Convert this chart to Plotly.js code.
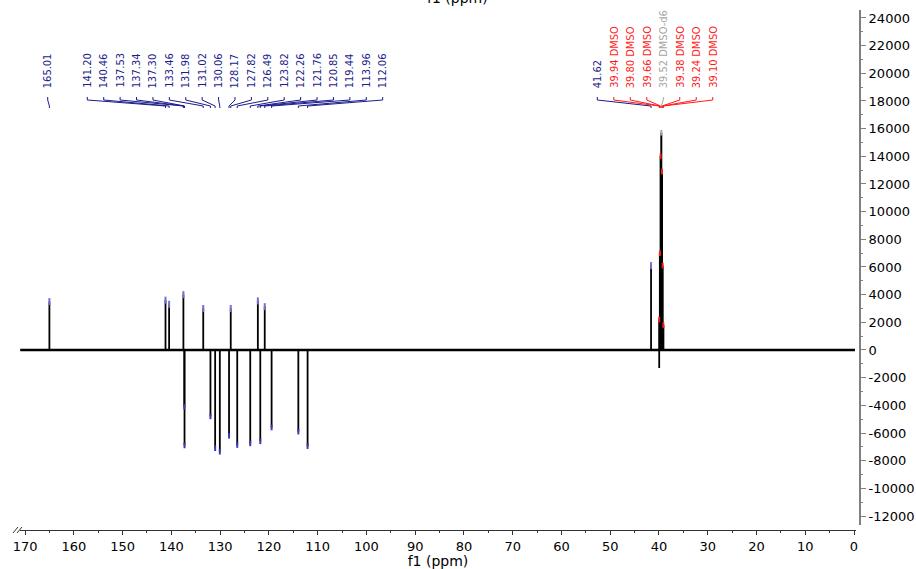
<!DOCTYPE html>
<html><head><meta charset="utf-8">
<script src="https://cdn.plot.ly/plotly-3.0.1.min.js"></script>
<style>html,body{margin:0;padding:0;background:#fff}</style>
</head><body><div id="chart" style="width:916px;height:569px"></div>
<script>
// ---------- data ----------
const posPeakPpm = [165.01, 141.20, 140.46, 137.53, 133.46, 127.82, 122.26, 120.85, 41.62];
const posPeakInt = [3500, 3600, 3300, 4000, 3000, 3000, 3550, 3130, 6100];
const negPeakPpm = [137.34, 137.30, 131.98, 131.02, 130.06, 128.17, 126.49, 123.82, 121.76, 119.44, 113.96, 112.06];
const negPeakInt = [-4100, -6900, -4800, -7100, -7350, -6200, -6870, -6750, -6600, -5600, -5900, -6950];
const solventPpm = [39.94, 39.80, 39.66, 39.52, 39.38, 39.24, 39.10];
const solventInt = [2200, 7000, 14000, 15700, 12900, 6100, 1800];
const artifactPpm = [39.95];
const artifactInt = [-1300];
const baselinePpm = [171.0, -0.2];
const baselineInt = [0, 0];
const xTickVals = [170, 160, 150, 140, 130, 120, 110, 100, 90, 80, 70, 60, 50, 40, 30, 20, 10, 0];
const yTickVals = [24000, 22000, 20000, 18000, 16000, 14000, 12000, 10000, 8000, 6000, 4000, 2000, 0,
                   -2000, -4000, -6000, -8000, -10000, -12000];
const labelGroupA = ['165.01'];
const labelGroupB = ['141.20', '140.46', '137.53', '137.34', '137.30', '133.46', '131.98', '131.02', '130.06',
                     '128.17', '127.82', '126.49', '123.82', '122.26', '121.76', '120.85', '119.44', '113.96', '112.06'];
const labelGroupC = ['41.62', '39.94 DMSO', '39.80 DMSO', '39.66 DMSO', '39.52 DMSO-d6', '39.38 DMSO', '39.24 DMSO', '39.10 DMSO'];

// ---------- layout geometry ----------
const W = 916, H = 569;
const PL = 20, PR = 860, PT = 10, PB = 530;      // plot area in px
const XDOM_END = 856;                              // x axis ends a bit before the y axis
const X0 = 171.04, X1 = -0.41;                     // ppm at PL and XDOM_END
const Y0 = -12650, Y1 = 24575;                     // intensity at y-domain bottom/top
const pxToPpm = px => X0 + (px - PL) / (XDOM_END - PL) * (X1 - X0);
const pyToPaper = py => (PB - py) / (PB - PT);
const pxToPaper = px => (px - PL) / (PR - PL);
const groups = [
  {labels: labelGroupA, start: 47.7, step: 16.45},
  {labels: labelGroupB, start: 87.3, step: 16.41},
  {labels: labelGroupC, start: 597.3, step: 16.49}
];
const NAVY = '#1c1c8c', RED = '#ff1a1a', GREY = '#a6a6a6';
const colorOf = t => t.indexOf('DMSO-d6') >= 0 ? GREY : (t.indexOf('DMSO') >= 0 ? RED : NAVY);

// ---------- traces ----------
function sticks(xs, ys) {
  const x = [], y = [];
  xs.forEach((v, i) => { x.push(v, v, null); y.push(0, ys[i], null); });
  return {x, y};
}
const allPpm = posPeakPpm.concat(negPeakPpm, artifactPpm);
const allInt = posPeakInt.concat(negPeakInt, artifactInt);
const st = sticks(allPpm, allInt);
const sv = sticks(solventPpm, solventInt);

const traces = [
  {x: baselinePpm, y: baselineInt, mode: 'lines', line: {color: '#000', width: 2.5}, hoverinfo: 'skip'},
  {x: st.x, y: st.y, mode: 'lines', line: {color: '#000', width: 1.8}, hoverinfo: 'skip'},
  {x: sv.x, y: sv.y, mode: 'lines', line: {color: '#000', width: 2}, hoverinfo: 'skip'},
  {x: posPeakPpm, y: posPeakInt, mode: 'markers',
   marker: {symbol: 'line-ns', size: 5, line: {color: '#7070d0', width: 2}}, hoverinfo: 'skip'},
  {x: negPeakPpm, y: negPeakInt, mode: 'markers',
   marker: {symbol: 'line-ns', size: 4, line: {color: '#3a3ab0', width: 2}}, hoverinfo: 'skip'},
  {x: solventPpm, y: solventInt, mode: 'markers',
   marker: {symbol: 'line-ns', size: 4, line: {color: solventPpm.map(p => p === 39.52 ? GREY : RED), width: 2}}, hoverinfo: 'skip'}
];

// ---------- labels & connectors ----------
const annotations = [], shapes = [];
groups.forEach(g => {
  g.labels.forEach((t, i) => {
    const px = g.start + i * g.step;
    const lx = pxToPpm(px);
    const peak = parseFloat(t);
    const c = colorOf(t);
    annotations.push({
      x: lx, xref: 'x', y: pyToPaper(89), yref: 'paper', xanchor: 'center', yanchor: 'bottom',
      text: t, textangle: -90, showarrow: false, borderpad: 0,
      font: {family: 'Liberation Sans Narrow, DejaVu Sans Condensed, sans-serif', size: 11, color: c}
    });
    shapes.push({
      type: 'path', xref: 'x', yref: 'paper', layer: 'above',
      path: 'M' + lx + ',' + pyToPaper(97) + ' L' + lx + ',' + pyToPaper(100) +
            ' L' + peak + ',' + pyToPaper(106) + ' L' + peak + ',' + pyToPaper(108),
      line: {color: c, width: 1}
    });
  });
});
// axis break mark
[13, 17].forEach(px => {
  shapes.push({type: 'line', xref: 'paper', yref: 'paper',
    x0: pxToPaper(px), y0: pyToPaper(533), x1: pxToPaper(px + 5), y1: pyToPaper(527),
    line: {color: '#333', width: 1}});
});
// partially visible top title
annotations.push({
  x: pxToPaper(457), xref: 'paper', y: 1, yref: 'paper', xanchor: 'center', yanchor: 'bottom',
  yshift: 3, text: 'f1 (ppm)', showarrow: false, borderpad: 0,
  font: {family: 'DejaVu Sans, sans-serif', size: 14, color: '#000'}
});

const layout = {
  width: W, height: H,
  margin: {l: PL, r: W - PR, t: PT, b: H - PB, pad: 0},
  paper_bgcolor: '#fff', plot_bgcolor: '#fff',
  showlegend: false, hovermode: false,
  font: {family: 'DejaVu Sans, sans-serif', size: 13, color: '#000'},
  xaxis: {
    domain: [0, (XDOM_END - PL) / (PR - PL)], range: [X0, X1],
    anchor: 'free', position: 0,
    tickmode: 'array', tickvals: xTickVals, ticktext: xTickVals.map(String),
    ticks: 'outside', ticklen: 4, tickwidth: 1, tickcolor: '#333',
    minor: {dtick: 5, tick0: 0, ticks: 'outside', ticklen: 2, tickcolor: '#333', showgrid: false},
    showline: true, linecolor: '#333', linewidth: 1,
    showgrid: false, zeroline: false,
    tickfont: {family: 'DejaVu Sans, sans-serif', size: 13, color: '#000'},
    title: {text: 'f1 (ppm)', font: {family: 'DejaVu Sans, sans-serif', size: 14, color: '#000'}, standoff: 2}
  },
  yaxis: {
    domain: [(PB - 525) / (PB - PT), 1], range: [Y0, Y1],
    anchor: 'free', position: 1, side: 'right',
    tickmode: 'array', tickvals: yTickVals, ticktext: yTickVals.map(String),
    ticks: 'outside', ticklen: 5, tickwidth: 1, tickcolor: '#808080',
    minor: {dtick: 1000, tick0: 0, ticks: 'outside', ticklen: 2, tickcolor: '#808080', showgrid: false},
    showline: true, linecolor: '#808080', linewidth: 2,
    showgrid: false, zeroline: false,
    tickfont: {family: 'DejaVu Sans, sans-serif', size: 13, color: '#000'}
  },
  annotations: annotations,
  shapes: shapes
};
Plotly.newPlot('chart', traces, layout, {staticPlot: true, displayModeBar: false});
</script></body></html>
